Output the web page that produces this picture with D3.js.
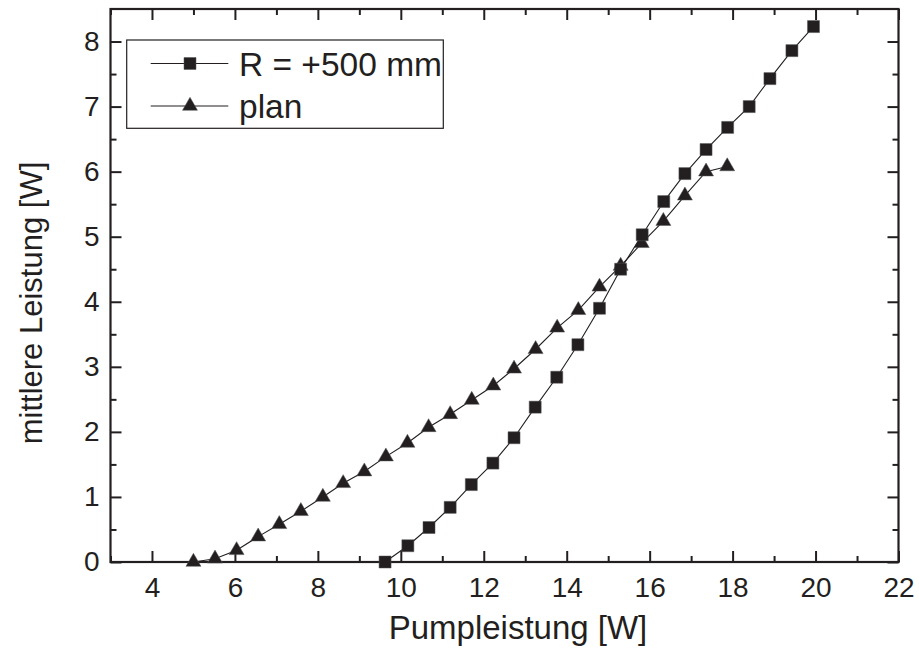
<!DOCTYPE html>
<html>
<head>
<meta charset="utf-8">
<script src="https://cdn.jsdelivr.net/npm/d3@7"></script>
<style>
  html, body { margin: 0; padding: 0; background: #fff; }
  svg { display: block; font-family: "Liberation Sans", Arial, sans-serif; }
</style>
</head>
<body>
<svg id="chart" width="919" height="650"></svg>
<script>
// ---- data ----
const seriesNames = ["R = +500 mm", "plan"];
const r500X = [9.62, 10.17, 10.68, 11.19, 11.70, 12.22, 12.73, 13.24, 13.76, 14.27, 14.79, 15.30, 15.82, 16.34, 16.85, 17.36, 17.88, 18.40, 18.90, 19.43, 19.95];
const r500Y = [0.00, 0.25, 0.53, 0.84, 1.19, 1.52, 1.91, 2.38, 2.84, 3.34, 3.90, 4.50, 5.03, 5.54, 5.97, 6.34, 6.68, 7.00, 7.43, 7.86, 8.23];
const planX = [5.00, 5.52, 6.04, 6.56, 7.07, 7.59, 8.12, 8.61, 9.12, 9.64, 10.16, 10.67, 11.19, 11.71, 12.23, 12.73, 13.25, 13.77, 14.28, 14.79, 15.30, 15.81, 16.33, 16.85, 17.36, 17.87];
const planY = [0.00, 0.05, 0.18, 0.39, 0.58, 0.78, 1.00, 1.21, 1.39, 1.62, 1.83, 2.07, 2.27, 2.49, 2.71, 2.97, 3.27, 3.60, 3.87, 4.23, 4.55, 4.90, 5.24, 5.63, 6.00, 6.08];
const xTicks = [4, 6, 8, 10, 12, 14, 16, 18, 20, 22];
const xMinorTicks = [3, 5, 7, 9, 11, 13, 15, 17, 19, 21];
const yTicks = [0, 1, 2, 3, 4, 5, 6, 7, 8];
const yMinorTicks = [0.5, 1.5, 2.5, 3.5, 4.5, 5.5, 6.5, 7.5];
const xTitle = "Pumpleistung [W]";
const yTitle = "mittlere Leistung [W]";

// ---- layout ----
const ink = "#231f20";
const L = 110.5, R = 898.5, T = 9, B = 562;
const svg = d3.select("#chart");
const x = d3.scaleLinear().domain([3, 22]).range([L, R]);
const y = d3.scaleLinear().domain([0, 8.5]).range([B, T]);

const tickFont = 28;
function styleAxis(g) {
  g.select(".domain").remove();
  g.selectAll("line").attr("stroke", ink).attr("stroke-width", 2);
  g.selectAll("text").attr("fill", ink).style("font-size", tickFont + "px");
}

// bottom
svg.append("g").attr("transform", `translate(0,${B})`)
  .call(d3.axisBottom(x).tickValues(xTicks).tickFormat(d3.format("d")).tickSize(-11).tickPadding(15))
  .call(styleAxis);
svg.append("g").attr("transform", `translate(0,${B})`)
  .call(d3.axisBottom(x).tickValues(xMinorTicks).tickFormat("").tickSize(-6))
  .call(styleAxis);
// top
svg.append("g").attr("transform", `translate(0,${T})`)
  .call(d3.axisTop(x).tickValues(xTicks).tickFormat("").tickSize(-11))
  .call(styleAxis);
svg.append("g").attr("transform", `translate(0,${T})`)
  .call(d3.axisTop(x).tickValues(xMinorTicks).tickFormat("").tickSize(-6))
  .call(styleAxis);
// left
svg.append("g").attr("transform", `translate(${L},0)`)
  .call(d3.axisLeft(y).tickValues(yTicks).tickFormat(d3.format("d")).tickSize(-11).tickPadding(11))
  .call(styleAxis);
svg.append("g").attr("transform", `translate(${L},0)`)
  .call(d3.axisLeft(y).tickValues(yMinorTicks).tickFormat("").tickSize(-6))
  .call(styleAxis);
// right
svg.append("g").attr("transform", `translate(${R},0)`)
  .call(d3.axisRight(y).tickValues(yTicks).tickFormat("").tickSize(-11))
  .call(styleAxis);
svg.append("g").attr("transform", `translate(${R},0)`)
  .call(d3.axisRight(y).tickValues(yMinorTicks).tickFormat("").tickSize(-6))
  .call(styleAxis);

// frame
svg.append("rect").attr("x", L).attr("y", T).attr("width", R - L).attr("height", B - T)
  .attr("fill", "none").attr("stroke", ink).attr("stroke-width", 2.2);

// titles
svg.append("text").attr("x", 518).attr("y", 639).attr("text-anchor", "middle")
  .attr("fill", ink).style("font-size", "33px").text(xTitle);
svg.append("text").attr("transform", "translate(42,303) rotate(-90)").attr("text-anchor", "middle")
  .attr("fill", ink).style("font-size", "31px").text(yTitle);

// ---- series ----
const line = d3.line().x(d => x(d[0])).y(d => y(d[1]));
const r500 = r500X.map((v, i) => [v, r500Y[i]]);
const plan = planX.map((v, i) => [v, planY[i]]);
const sqSym = d3.symbol().type(d3.symbolSquare).size(144);
const triSym = d3.symbol().type(d3.symbolTriangle).size(97);

function drawSeries(data, sym) {
  svg.append("path").datum(data).attr("d", line).attr("fill", "none")
    .attr("stroke", ink).attr("stroke-width", 1.1);
  svg.append("g").selectAll("path").data(data).join("path")
    .attr("d", sym).attr("transform", d => `translate(${x(d[0])},${y(d[1])})`)
    .attr("fill", ink).attr("stroke", "#555").attr("stroke-width", 0.5);
}
drawSeries(plan, triSym);
drawSeries(r500, sqSym);

// ---- legend ----
const lg = svg.append("g");
lg.append("rect").attr("x", 126.7).attr("y", 40).attr("width", 316.6).attr("height", 88.3)
  .attr("fill", "#fff").attr("stroke", ink).attr("stroke-width", 1.2);
const legendRows = [
  { name: seriesNames[0], sym: sqSym, cy: 63.5 },
  { name: seriesNames[1], sym: triSym, cy: 106 }
];
legendRows.forEach(r => {
  lg.append("line").attr("x1", 150.7).attr("x2", 228.3).attr("y1", r.cy).attr("y2", r.cy)
    .attr("stroke", ink).attr("stroke-width", 1.1);
  lg.append("path").attr("d", r.sym).attr("transform", `translate(190,${r.cy})`)
    .attr("fill", ink).attr("stroke", "#555").attr("stroke-width", 0.5);
  lg.append("text").attr("x", 239).attr("y", r.cy).attr("dy", "0.36em")
    .attr("fill", ink).style("font-size", "33.5px").text(r.name);
});
</script>
</body>
</html>
